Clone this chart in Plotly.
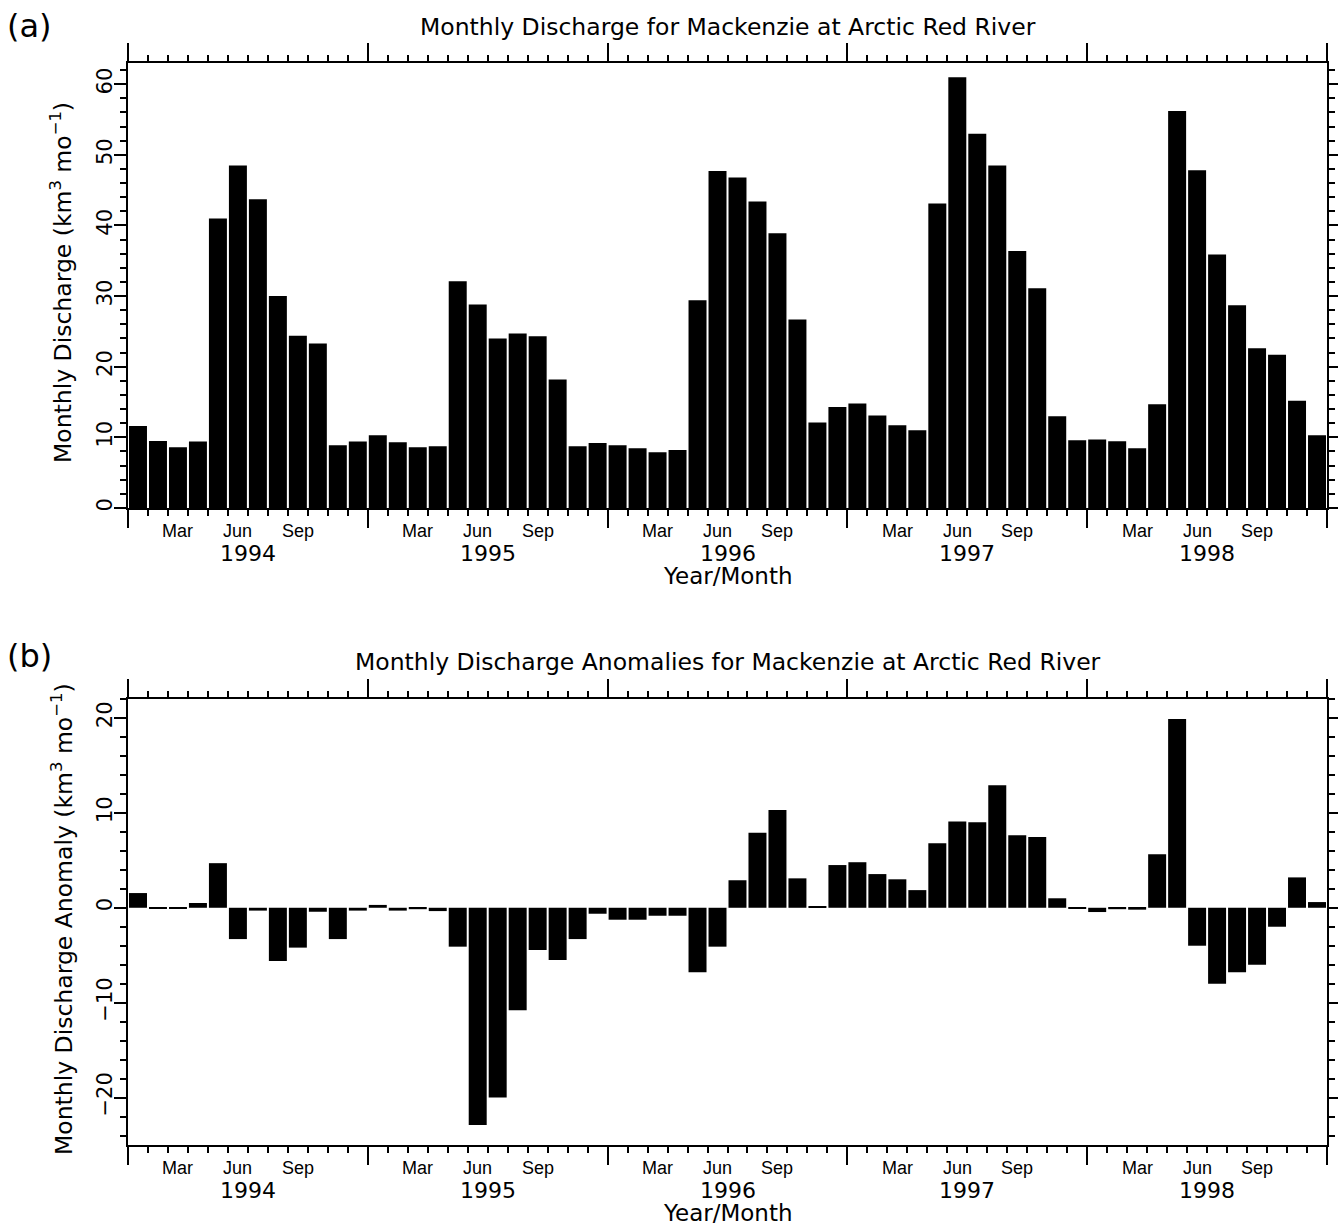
import plotly.graph_objects as go

years = [1994, 1995, 1996, 1997, 1998]
month_labels = ["Mar", "Jun", "Sep"]
month_label_idx = [2, 5, 8]

discharge = [
    11.6, 9.5, 8.6, 9.4, 41.0, 48.5, 43.7, 30.0, 24.4, 23.3, 8.9, 9.4,      # 1994
    10.3, 9.3, 8.6, 8.75, 32.1, 28.8, 24.0, 24.7, 24.3, 18.2, 8.75, 9.2,    # 1995
    8.9, 8.45, 7.9, 8.2, 29.4, 47.7, 46.8, 43.4, 38.9, 26.7, 12.1, 14.3,    # 1996
    14.8, 13.1, 11.7, 11.0, 43.1, 61.0, 53.0, 48.5, 36.4, 31.1, 13.0, 9.6,  # 1997
    9.7, 9.45, 8.45, 14.7, 56.2, 47.8, 35.9, 28.7, 22.6, 21.7, 15.2, 10.3,  # 1998
]

anomaly = [
    1.55, -0.1, -0.1, 0.5, 4.7, -3.3, -0.3, -5.6, -4.2, -0.42, -3.3, -0.3,   # 1994
    0.3, -0.3, -0.15, -0.35, -4.1, -22.9, -20.0, -10.8, -4.45, -5.5, -3.3, -0.63,  # 1995
    -1.26, -1.26, -0.84, -0.84, -6.8, -4.1, 2.9, 7.9, 10.3, 3.1, 0.1, 4.5,   # 1996
    4.8, 3.55, 3.0, 1.86, 6.8, 9.1, 9.0, 12.9, 7.65, 7.45, 1.0, -0.1,        # 1997
    -0.45, -0.15, -0.2, 5.65, 19.9, -4.0, -8.0, -6.8, -6.0, -2.0, 3.2, 0.6,  # 1998
]

titles = ["Monthly Discharge for Mackenzie at Arctic Red River",
          "Monthly Discharge Anomalies for Mackenzie at Arctic Red River"]
panel_tags = ["(a)", "(b)"]
ytitles = ["Monthly Discharge (km<sup>3</sup> mo<sup>\u22121</sup>)",
           "Monthly Discharge Anomaly (km<sup>3</sup> mo<sup>\u22121</sup>)"]
xtitle = "Year/Month"

W, H = 1338, 1226
n = len(discharge)
xpos = [i + 0.5 for i in range(n)]

# pixel layout
px_left, px_right = 128, 1327
panels = [(63, 508), (699, 1145)]

fig = go.Figure()
fig.add_trace(go.Bar(x=xpos, y=discharge, width=0.9, marker=dict(color="black", line=dict(width=0)),
                     xaxis="x", yaxis="y", showlegend=False))
fig.add_trace(go.Bar(x=xpos, y=anomaly, width=0.9, marker=dict(color="black", line=dict(width=0)),
                     xaxis="x2", yaxis="y2", showlegend=False))

big_font = "DejaVu Sans"
xdom = [px_left / W, px_right / W]

def xaxis_def(anchor):
    return dict(
        domain=xdom, anchor=anchor, range=[0, n],
        tickmode="array", tickvals=[12 * k for k in range(len(years) + 1)],
        ticks="outside", ticklen=18, tickwidth=2, tickcolor="black",
        showticklabels=False, showgrid=False, zeroline=False,
        showline=True, linecolor="black", linewidth=2, mirror="ticks",
        minor=dict(dtick=1, tick0=0, ticks="outside", ticklen=6, tickwidth=1.5,
                   tickcolor="black", showgrid=False),
        fixedrange=True,
    )

def yaxis_def(anchor, dom, rng, tvals):
    return dict(
        domain=dom, anchor=anchor, range=rng,
        tickmode="array", tickvals=tvals,
        ticks="outside", ticklen=12, tickwidth=2, tickcolor="black",
        tickangle=-90, ticklabelstandoff=-6,
        tickfont=dict(family=big_font, size=21, color="black"),
        showgrid=False, zeroline=False,
        showline=True, linecolor="black", linewidth=2, mirror="ticks",
        minor=dict(dtick=2, tick0=0, ticks="outside", ticklen=6, tickwidth=1.5,
                   tickcolor="black", showgrid=False),
        fixedrange=True,
    )

dom_a = [1 - panels[0][1] / H, 1 - panels[0][0] / H]
dom_b = [1 - panels[1][1] / H, 1 - panels[1][0] / H]

fig.update_layout(
    width=W, height=H,
    margin=dict(l=0, r=0, t=0, b=0, autoexpand=False),
    paper_bgcolor="white", plot_bgcolor="white",
    xaxis=xaxis_def("y"),
    yaxis=yaxis_def("x", dom_a, [0, 63], [0, 10, 20, 30, 40, 50, 60]),
    xaxis2=xaxis_def("y2"),
    yaxis2=yaxis_def("x2", dom_b, [-25, 22], [-20, -10, 0, 10, 20]),
    showlegend=False,
)

annotations = []
for p, (xa, ya) in enumerate([("x", "y"), ("x2", "y2")]):
    # month labels
    for k, yr in enumerate(years):
        for lab, mi in zip(month_labels, month_label_idx):
            annotations.append(dict(
                x=12 * k + mi + 0.5, xref=xa, y=0, yref=ya + " domain",
                text=lab, showarrow=False, xanchor="center", yanchor="middle",
                yshift=-23, font=dict(family="Liberation Sans", size=18, color="black")))
        annotations.append(dict(
            x=12 * k + 6, xref=xa, y=0, yref=ya + " domain",
            text=str(yr), showarrow=False, xanchor="center", yanchor="middle",
            yshift=-45, font=dict(family=big_font, size=22, color="black")))
    annotations.append(dict(
        x=n / 2, xref=xa, y=0, yref=ya + " domain",
        text=xtitle, showarrow=False, xanchor="center", yanchor="middle",
        yshift=-68, font=dict(family=big_font, size=23, color="black")))
    # title
    annotations.append(dict(
        x=0.5, xref=xa + " domain", y=1, yref=ya + " domain",
        text=titles[p], showarrow=False, xanchor="center", yanchor="middle",
        yshift=36 if p == 0 else 37, font=dict(family=big_font, size=23.5, color="black")))
    # panel tag
    annotations.append(dict(
        x=5 / W, xref="paper", y=1 - (26 if p == 0 else 656) / H, yref="paper",
        text=panel_tags[p], showarrow=False, xanchor="left", yanchor="middle",
        font=dict(family=big_font, size=32, color="black")))
    # y title
    yc = 283 if p == 0 else 919
    annotations.append(dict(
        x=62 / W, xref="paper", y=1 - yc / H, yref="paper",
        text=ytitles[p], showarrow=False, xanchor="center", yanchor="middle",
        textangle=-90, font=dict(family=big_font, size=23.5, color="black")))

fig.update_layout(annotations=annotations)
fig.write_html("out.html")
